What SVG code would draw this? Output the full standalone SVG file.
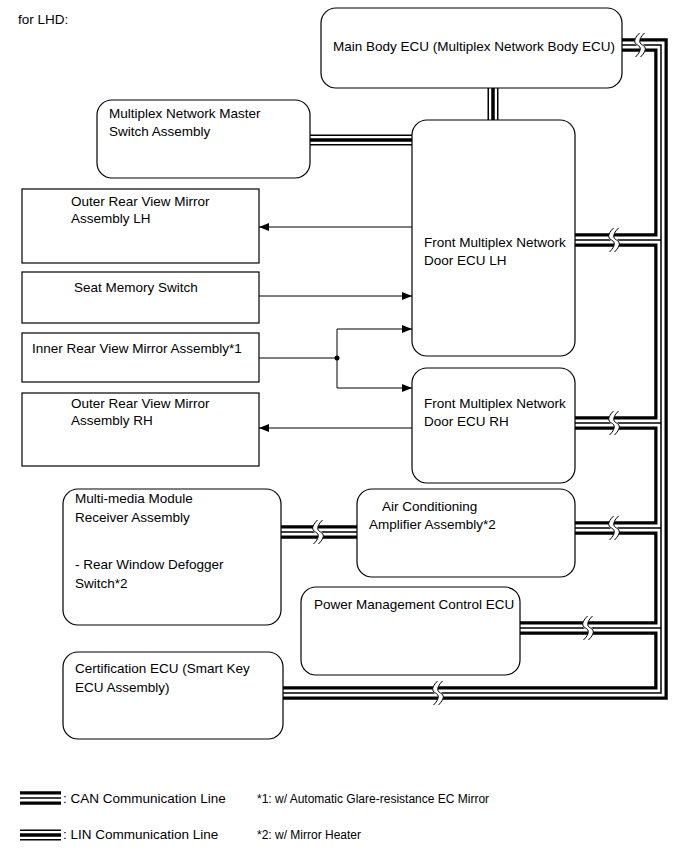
<svg xmlns="http://www.w3.org/2000/svg" xmlns:xlink="http://www.w3.org/1999/xlink" width="689" height="854" viewBox="0 0 689 854">
<style>
text{font-family:"Liberation Sans",Arial,sans-serif;font-size:13.5px;fill:#000}
text.note{font-size:12px}
.box{fill:#fff;stroke:#000;stroke-width:1.2}
.can1{fill:none;stroke:#000;stroke-width:13.5}
.can2{fill:none;stroke:#fff;stroke-width:7}
.can3{fill:none;stroke:#000;stroke-width:1.5}
.lin1{fill:none;stroke:#000;stroke-width:11}
.lin2{fill:none;stroke:#fff;stroke-width:8}
.lin3{fill:none;stroke:#000;stroke-width:3.5}
.wire{fill:none;stroke:#000;stroke-width:1}
</style>
<defs>
<marker id="arr" viewBox="0 0 10 8" refX="10" refY="4" markerWidth="10" markerHeight="8" markerUnits="userSpaceOnUse" orient="auto">
<path d="M0,0 L10,4 L0,8 z" fill="#000"/>
</marker>
<g id="brk">
<path d="M2,-12 C-4,-6 -4,-2 0,0 C4,2 4,6 -2,12" fill="none" stroke="#fff" stroke-width="5"/>
<path d="M-0.5,-12 C-6.5,-6 -6.5,-2 -2.5,0 C1.5,2 1.5,6 -4.5,12" fill="none" stroke="#000" stroke-width="1"/>
<path d="M4.5,-12 C-1.5,-6 -1.5,-2 2.5,0 C6.5,2 6.5,6 0.5,12" fill="none" stroke="#000" stroke-width="1"/>
</g>
</defs>
<rect width="689" height="854" fill="#fff"/>
<text x="18" y="24">for LHD:</text>

<g id="connectors">
<g>
<path class="can1" d="M622,45 H661 V693 H283 M575,240 H661 M575,423 H661 M575,528 H661 M520,628 H661 M281,532 H357"/>
<path class="can2" d="M622,45 H661 V693 H283 M575,240 H661 M575,423 H661 M575,528 H661 M520,628 H661 M281,532 H357"/>
<path class="can3" d="M622,45 H661 V693 H283 M575,240 H661 M575,423 H661 M575,528 H661 M520,628 H661 M281,532 H357"/>
</g>
<g>
<path class="lin1" d="M493,87 V121 M310,140 H413"/>
<path class="lin2" d="M493,87 V121 M310,140 H413"/>
<path class="lin3" d="M493,87 V121 M310,140 H413"/>
</g>
<use xlink:href="#brk" x="640" y="45"/>
<use xlink:href="#brk" x="614" y="240"/>
<use xlink:href="#brk" x="614" y="423"/>
<use xlink:href="#brk" x="614" y="528"/>
<use xlink:href="#brk" x="588" y="628"/>
<use xlink:href="#brk" x="318" y="532"/>
<use xlink:href="#brk" x="438" y="693"/>
<path class="wire" d="M412,227 H259" marker-end="url(#arr)"/>
<path class="wire" d="M259,296 H412" marker-end="url(#arr)"/>
<path class="wire" d="M259,358 H337"/>
<path class="wire" d="M337,329 V388"/>
<path class="wire" d="M337,329 H412" marker-end="url(#arr)"/>
<path class="wire" d="M337,388 H412" marker-end="url(#arr)"/>
<circle cx="337" cy="358" r="2.5" fill="#000"/>
<path class="wire" d="M412,428 H259" marker-end="url(#arr)"/>
</g>

<g id="main-body-ecu">
<rect class="box" x="321" y="8" width="301" height="80" rx="15"/>
<text x="333" y="51">Main Body ECU (Multiplex Network Body ECU)</text>
</g>
<g id="master-switch">
<rect class="box" x="97" y="100" width="213" height="78" rx="15"/>
<text x="109" y="118">Multiplex Network Master</text>
<text x="109" y="136">Switch Assembly</text>
</g>
<g id="door-ecu-lh">
<rect class="box" x="412" y="120" width="163" height="236" rx="15"/>
<text x="424" y="247">Front Multiplex Network</text>
<text x="424" y="265">Door ECU LH</text>
</g>
<g id="outer-mirror-lh">
<rect class="box" x="22" y="189" width="237" height="74"/>
<text x="71" y="206">Outer Rear View Mirror</text>
<text x="71" y="223">Assembly LH</text>
</g>
<g id="seat-memory-switch">
<rect class="box" x="22" y="272" width="237" height="51"/>
<text x="74" y="292">Seat Memory Switch</text>
</g>
<g id="inner-mirror">
<rect class="box" x="22" y="333" width="237" height="49"/>
<text x="32" y="353">Inner Rear View Mirror Assembly*1</text>
</g>
<g id="door-ecu-rh">
<rect class="box" x="412" y="368" width="163" height="115" rx="15"/>
<text x="424" y="408">Front Multiplex Network</text>
<text x="424" y="426">Door ECU RH</text>
</g>
<g id="outer-mirror-rh">
<rect class="box" x="22" y="393" width="237" height="73"/>
<text x="71" y="408">Outer Rear View Mirror</text>
<text x="71" y="425">Assembly RH</text>
</g>
<g id="multimedia">
<rect class="box" x="63" y="489" width="218" height="136" rx="15"/>
<text x="75" y="503">Multi-media Module</text>
<text x="75" y="522">Receiver Assembly</text>
<text x="75" y="569">- Rear Window Defogger</text>
<text x="75" y="588">Switch*2</text>
</g>
<g id="air-conditioning">
<rect class="box" x="357" y="489" width="218" height="88" rx="15"/>
<text x="382" y="511">Air Conditioning</text>
<text x="369" y="529">Amplifier Assembly*2</text>
</g>
<g id="power-management">
<rect class="box" x="301" y="587" width="219" height="88" rx="15"/>
<text x="314" y="609">Power Management Control ECU</text>
</g>
<g id="certification-ecu">
<rect class="box" x="63" y="652" width="220" height="87" rx="15"/>
<text x="75" y="673">Certification ECU (Smart Key</text>
<text x="75" y="692">ECU Assembly)</text>
</g>

<g id="legend">
<path class="can1" d="M20,798 H61"/>
<path class="can2" d="M20,798 H61"/>
<path class="can3" d="M20,798 H61"/>
<text x="63" y="803">: CAN Communication Line</text>
<path class="lin1" d="M20,835 H61"/>
<path class="lin2" d="M20,835 H61"/>
<path class="lin3" d="M20,835 H61"/>
<text x="63" y="839">: LIN Communication Line</text>
<text class="note" x="257" y="803">*1: w/ Automatic Glare-resistance EC Mirror</text>
<text class="note" x="257" y="839">*2: w/ Mirror Heater</text>
</g>
</svg>
